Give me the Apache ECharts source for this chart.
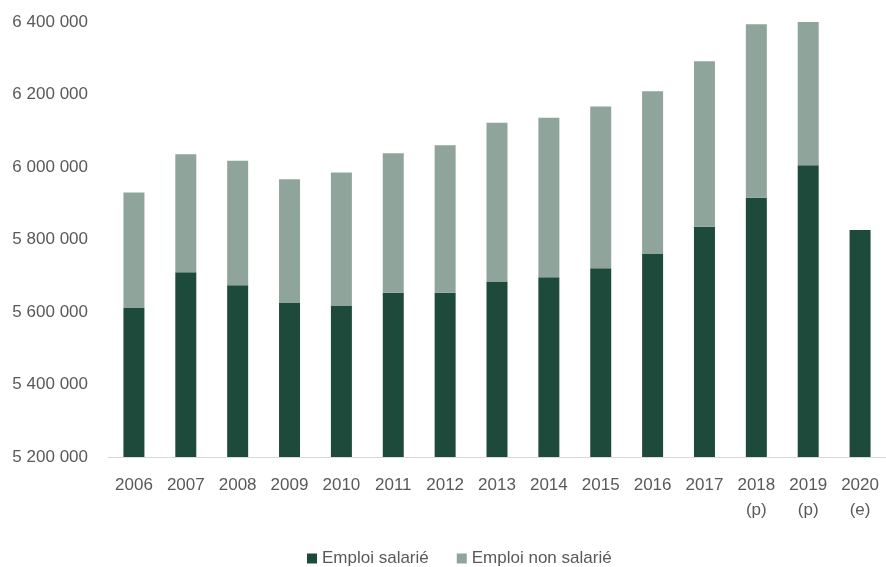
<!DOCTYPE html>
<html><head><meta charset="utf-8">
<script src="https://cdn.jsdelivr.net/npm/echarts@6/dist/echarts.min.js"></script>
<style>html,body{margin:0;padding:0;background:#fff}#c{width:886px;height:567px}</style>
</head><body><div id="c"></div>
<script>
const categories = ['2006','2007','2008','2009','2010','2011','2012','2013','2014','2015','2016','2017','2018\n(p)','2019\n(p)','2020\n(e)'];
const salarie = [5611000,5710000,5674000,5625000,5618000,5653000,5653000,5683000,5696000,5721000,5760000,5835000,5915000,6005000,5826000];
const nonSalarie = [319000,325000,343000,341000,367000,385000,407000,439000,440000,446000,449000,457000,479000,398000,null];
const seriesNames = ['Emploi salarié','Emploi non salarié'];
const FONT = '"Liberation Sans", Arial, sans-serif';

const chart = echarts.init(document.getElementById('c'), null, {renderer:'canvas'});
chart.setOption({
  animation:false,
  grid:{left:108, right:-6, top:22, bottom:110},
  legend:{
    data:seriesNames, left:302, top:545, itemWidth:10, itemHeight:10, itemGap:28,
    icon:'rect',
    textStyle:{color:'#595959', fontSize:17, fontFamily:FONT}
  },
  xAxis:{
    type:'category', data:categories,
    axisLine:{lineStyle:{color:'#d9d9d9', width:1}},
    axisTick:{show:false},
    axisLabel:{color:'#595959', fontSize:17, fontFamily:FONT, margin:16, lineHeight:25, interval:0}
  },
  yAxis:{
    type:'value', min:5200000, max:6400000, interval:200000,
    splitLine:{show:false},
    axisLine:{show:false}, axisTick:{show:false},
    axisLabel:{color:'#595959', fontSize:17, fontFamily:FONT, margin:20,
      formatter:v=>String(v).replace(/\B(?=(\d{3})+(?!\d))/g,' ')}
  },
  series:[
    {name:seriesNames[0], type:'bar', stack:'t', data:salarie, barWidth:21,
     itemStyle:{color:'#1e4a3b'}},
    {name:seriesNames[1], type:'bar', stack:'t', data:nonSalarie, barWidth:21,
     itemStyle:{color:'#8fa59b'}}
  ]
});
</script></body></html>
